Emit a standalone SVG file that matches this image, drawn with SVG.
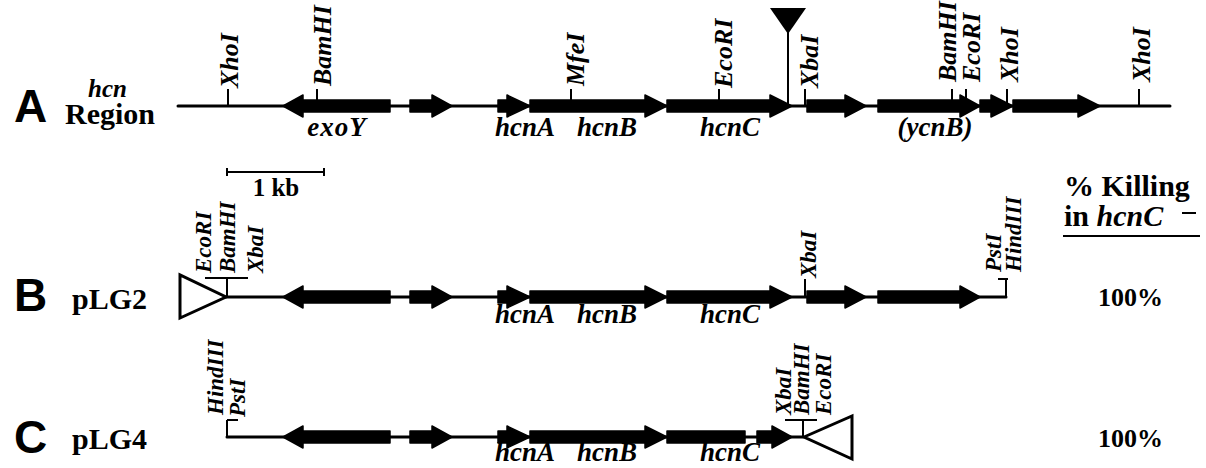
<svg xmlns="http://www.w3.org/2000/svg" width="1206" height="468" viewBox="0 0 1206 468">
<style>
.dna{stroke:#000;stroke-width:3;fill:none;stroke-linecap:round}
.tick{stroke:#000;stroke-width:2;fill:none}
.gene{fill:#000;stroke:#000;stroke-width:1.5;stroke-linejoin:round}
.re{font-family:"Liberation Serif",serif;font-weight:bold;font-style:italic;font-size:26px;fill:#000}
.re2{font-family:"Liberation Serif",serif;font-weight:bold;font-style:italic;font-size:23px;fill:#000}
.gl{font-family:"Liberation Serif",serif;font-weight:bold;font-style:italic;font-size:27px;fill:#000;text-anchor:middle}
.big{font-family:"Liberation Sans",Arial,sans-serif;font-weight:bold;font-size:46px;fill:#000}
.lab{font-family:"Liberation Serif",serif;font-weight:bold;font-size:30px;fill:#000}
.num{font-family:"Liberation Serif",serif;font-weight:bold;font-size:26px;fill:#000}
</style>

<g id="connectors">
  <line class="dna" x1="178" y1="106" x2="1170" y2="106"/>
  <line class="dna" x1="226" y1="297" x2="1006" y2="297"/>
  <line class="dna" x1="227" y1="437" x2="803" y2="437"/>
</g>

<!-- Row A -->
<g id="rowA-title">
  <text class="big" x="14" y="122">A</text>
  <text x="88" y="97" style="font-family:'Liberation Serif',serif;font-weight:bold;font-style:italic;font-size:25px">hcn</text>
  <text class="lab" x="65" y="124" font-size="29">Region</text>
</g>
<g id="rowA-genes" transform="translate(0,106)">
  <path class="gene" d="M390,-6 H303 V-11 L283,0 L303,11 V6 H390 Z"/>
  <path class="gene" d="M410,-6 H432 V-11 L452,0 L432,11 V6 H410 Z"/>
  <path class="gene" d="M498,-6 H507 V-11 L530,0 L507,11 V6 H498 Z"/>
  <path class="gene" d="M530,-6 H645 V-11 L667,0 L645,11 V6 H530 Z"/>
  <path class="gene" d="M667,-6 H770 V-11 L792,0 L770,11 V6 H667 Z"/>
  <path class="gene" d="M807,-6 H845 V-11 L866,0 L845,11 V6 H807 Z"/>
  <path class="gene" d="M878,-6 H960 V-11 L980,0 L960,11 V6 H878 Z"/>
  <path class="gene" d="M980,-6 H991 V-11 L1013,0 L991,11 V6 H980 Z"/>
  <path class="gene" d="M1013,-6 H1078 V-11 L1100,0 L1078,11 V6 H1013 Z"/>
</g>
<g id="rowA-insertion">
  <polygon points="770,8 806,8 788,34" fill="#000"/>
  <line class="tick" x1="788" y1="30" x2="788" y2="106"/>
</g>
<g id="rowA-sites">
  <line class="tick" x1="228" y1="89" x2="228" y2="106"/>
  <line class="tick" x1="317" y1="89" x2="317" y2="106"/>
  <line class="tick" x1="571" y1="89" x2="571" y2="106"/>
  <line class="tick" x1="719" y1="89" x2="719" y2="106"/>
  <line class="tick" x1="805" y1="89" x2="805" y2="106"/>
  <line class="tick" x1="952" y1="89" x2="952" y2="106"/>
  <line class="tick" x1="966" y1="89" x2="966" y2="106"/>
  <line class="tick" x1="1007" y1="89" x2="1007" y2="106"/>
  <line class="tick" x1="1139" y1="89" x2="1139" y2="106"/>
  <text class="re" transform="translate(238,88) rotate(-90)">XhoI</text>
  <text class="re" transform="translate(331,86) rotate(-90)">BamHI</text>
  <text class="re" transform="translate(584,86) rotate(-90)">MfeI</text>
  <text class="re" transform="translate(732,88) rotate(-90)">EcoRI</text>
  <text class="re" transform="translate(818,88) rotate(-90)">XbaI</text>
  <text class="re" transform="translate(956,82) rotate(-90)">BamHI</text>
  <text class="re" transform="translate(980,82) rotate(-90)">EcoRI</text>
  <text class="re" transform="translate(1018,82) rotate(-90)">XhoI</text>
  <text class="re" transform="translate(1150,82) rotate(-90)">XhoI</text>
</g>
<g id="rowA-labels">
  <text class="gl" x="337" y="136" letter-spacing="1">exoY</text>
  <text class="gl" x="525" y="136">hcnA</text>
  <text class="gl" x="607" y="136">hcnB</text>
  <text class="gl" x="730" y="136">hcnC</text>
  <text class="gl" x="935" y="136">(ycnB)</text>
</g>

<g id="scale-bar">
  <line class="tick" x1="227" y1="172" x2="324" y2="172"/>
  <line class="tick" x1="227" y1="168" x2="227" y2="176"/>
  <line class="tick" x1="324" y1="168" x2="324" y2="176"/>
  <text x="276" y="196" text-anchor="middle" style="font-family:'Liberation Serif',serif;font-weight:bold;font-size:25px">1 kb</text>
</g>

<g id="killing-header">
  <text class="lab" x="1064" y="196" font-size="29">% Killing</text>
  <text class="lab" x="1064" y="226" font-size="29">in <tspan font-style="italic">hcnC</tspan></text>
  <line x1="1182" y1="213" x2="1196" y2="213" stroke="#000" stroke-width="2"/>
  <line x1="1063" y1="236" x2="1200" y2="236" stroke="#000" stroke-width="2"/>
</g>

<!-- Row B -->
<g id="rowB-title">
  <text class="big" x="14" y="311">B</text>
  <text class="lab" x="72" y="309" font-size="31">pLG2</text>
</g>
<g id="rowB-vector">
  <polygon points="180,275 180,318 226,297" fill="#fff" stroke="#000" stroke-width="3" stroke-linejoin="miter"/>
  <line class="tick" x1="205" y1="278" x2="248" y2="278"/>
  <line class="tick" x1="227" y1="278" x2="227" y2="297"/>
  <text class="re2" transform="translate(211,273) rotate(-90)">EcoRI</text>
  <text class="re2" transform="translate(235,273) rotate(-90)">BamHI</text>
  <text class="re2" transform="translate(263,273) rotate(-90)">XbaI</text>
</g>
<g id="rowB-genes" transform="translate(0,297)">
  <path class="gene" d="M390,-6 H303 V-11 L283,0 L303,11 V6 H390 Z"/>
  <path class="gene" d="M410,-6 H432 V-11 L452,0 L432,11 V6 H410 Z"/>
  <path class="gene" d="M498,-6 H507 V-11 L530,0 L507,11 V6 H498 Z"/>
  <path class="gene" d="M530,-6 H645 V-11 L667,0 L645,11 V6 H530 Z"/>
  <path class="gene" d="M667,-6 H770 V-11 L792,0 L770,11 V6 H667 Z"/>
  <path class="gene" d="M807,-6 H845 V-11 L866,0 L845,11 V6 H807 Z"/>
  <path class="gene" d="M878,-6 H960 V-11 L980,0 L960,11 V6 H878 Z"/>
</g>
<g id="rowB-sites">
  <line class="tick" x1="805" y1="279" x2="805" y2="297"/>
  <text class="re2" transform="translate(816,278) rotate(-90)">XbaI</text>
  <line class="tick" x1="1006" y1="279" x2="1006" y2="297"/>
  <line class="tick" x1="998" y1="279" x2="1008" y2="279"/>
  <text class="re2" transform="translate(1001,272) rotate(-90)">PstI</text>
  <text class="re2" transform="translate(1021,272) rotate(-90)">HindIII</text>
</g>
<g id="rowB-labels">
  <text class="gl" x="525" y="323">hcnA</text>
  <text class="gl" x="607" y="323">hcnB</text>
  <text class="gl" x="730" y="323">hcnC</text>
  <text class="num" x="1098" y="306">100%</text>
</g>

<!-- Row C -->
<g id="rowC-title">
  <text class="big" x="14" y="453">C</text>
  <text class="lab" x="72" y="449" font-size="31">pLG4</text>
</g>
<g id="rowC-left-sites">
  <line class="tick" x1="227" y1="420" x2="227" y2="437"/>
  <line class="tick" x1="227" y1="420" x2="238" y2="420"/>
  <text class="re2" transform="translate(223,415) rotate(-90)">HindIII</text>
  <text class="re2" transform="translate(245,417) rotate(-90)">PstI</text>
</g>
<g id="rowC-genes" transform="translate(0,437)">
  <path class="gene" d="M390,-6 H303 V-11 L283,0 L303,11 V6 H390 Z"/>
  <path class="gene" d="M410,-6 H432 V-11 L452,0 L432,11 V6 H410 Z"/>
  <path class="gene" d="M498,-6 H507 V-11 L530,0 L507,11 V6 H498 Z"/>
  <path class="gene" d="M530,-6 H645 V-11 L667,0 L645,11 V6 H530 Z"/>
  <path class="gene" d="M667,-6 H745 V6 H667 Z"/>
  <path class="gene" d="M757,-6 H772 V-11 L792,0 L772,11 V6 H757 Z"/>
</g>
<g id="rowC-vector">
  <line class="tick" x1="785" y1="420" x2="817" y2="420"/>
  <line class="tick" x1="803" y1="420" x2="803" y2="437"/>
  <polygon points="804,437 852,416 852,459" fill="#fff" stroke="#000" stroke-width="3"/>
  <text class="re2" transform="translate(791,415) rotate(-90)">XbaI</text>
  <text class="re2" transform="translate(809,415) rotate(-90)">BamHI</text>
  <text class="re2" transform="translate(831,415) rotate(-90)">EcoRI</text>
</g>
<g id="rowC-labels">
  <text class="gl" x="525" y="461">hcnA</text>
  <text class="gl" x="607" y="461">hcnB</text>
  <text class="gl" x="730" y="461">hcnC</text>
  <text class="num" x="1098" y="447">100%</text>
</g>
</svg>
